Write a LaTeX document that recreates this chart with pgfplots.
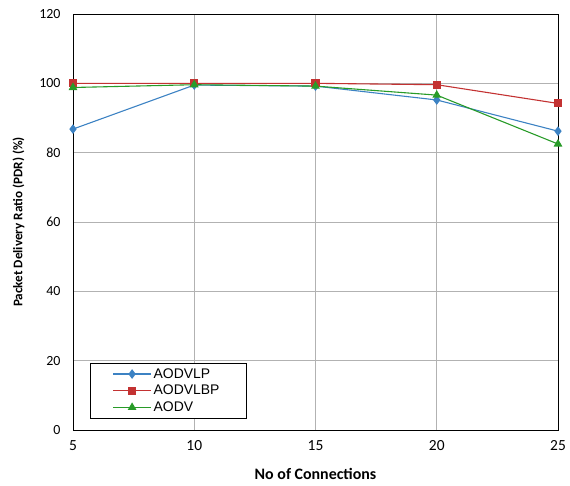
\documentclass[border=0pt]{standalone}
\usepackage{pgfplots}
\pgfplotsset{compat=1.18}
\usepackage{fontspec}
\setmainfont{Carlito}
\newfontfamily\legendfont{Liberation Sans}
\definecolor{lpblue}{RGB}{60,130,195}
\definecolor{lbpred}{RGB}{195,50,50}
\definecolor{aodvgreen}{RGB}{40,155,40}
\begin{document}
\begin{tikzpicture}
\begin{axis}[
  width=485bp, height=416bp,
  scale only axis,
  xmin=5, xmax=25, ymin=0, ymax=120,
  xtick={5,10,15,20,25},
  ytick={0,20,40,60,80,100,120},
  grid=major,
  major grid style={gray!60, line width=0.6pt},
  axis line style={black, line width=0.8pt},
  tick style={draw=none},
  yticklabel style={font=\fontsize{14}{16}\selectfont, xshift=-9bp},
  xticklabel style={font=\fontsize{15.5}{17}\selectfont, yshift=-7bp},
  /pgf/number format/assume math mode=true,
  xlabel={\textbf{No of Connections}},
  ylabel={\textbf{Packet Delivery Ratio (PDR) (\%)}},
  xlabel style={font=\fontsize{16}{18}\selectfont,
    at={(rel axis cs:0.5,0)}, yshift=-35bp, anchor=north},
  ylabel style={font=\fontsize{13.2}{15}\selectfont,
    at={(rel axis cs:0,0.5)}, yshift=45bp, anchor=south},
  legend style={at={(rel axis cs:0.035,0.028)}, anchor=south west,
    draw=black, line width=0.6pt, font=\legendfont\fontsize{14}{17}\selectfont,
    inner xsep=3pt, inner ysep=3pt, row sep=1.5pt},
  legend cell align=left,
  legend image code/.code={%
    \path[draw=none, fill=none] (-0.7cm,0cm) -- (0cm,0cm);
    \draw[mark repeat=2, mark phase=2]
      plot coordinates {(0cm,0cm) (0.67cm,0cm) (1.34cm,0cm)};},
  every axis plot/.append style={line width=1.1pt},
]
\coordinate (bl) at (rel axis cs:0,0);
\coordinate (tr) at (rel axis cs:1,1);
\addplot[color=lpblue, mark=diamond*, mark size=4pt] coordinates {
  (5,86.8) (10,99.5) (15,99.2) (20,95.2) (25,86.2)};
\addlegendentry{AODVLP}
\addplot[color=lbpred, mark=square*, mark size=3.5pt] coordinates {
  (5,100) (10,100) (15,100) (20,99.6) (25,94.2)};
\addlegendentry{\makebox[88bp][l]{AODVLBP}}
\addplot[color=aodvgreen, mark=triangle*, mark size=4pt] coordinates {
  (5,98.8) (10,99.6) (15,99.2) (20,96.6) (25,82.5)};
\addlegendentry{AODV}
\end{axis}
\pgfresetboundingbox
\path ([shift={(-73bp,-56bp)}]bl) rectangle ([shift={(12bp,14bp)}]tr);
\end{tikzpicture}
\end{document}
